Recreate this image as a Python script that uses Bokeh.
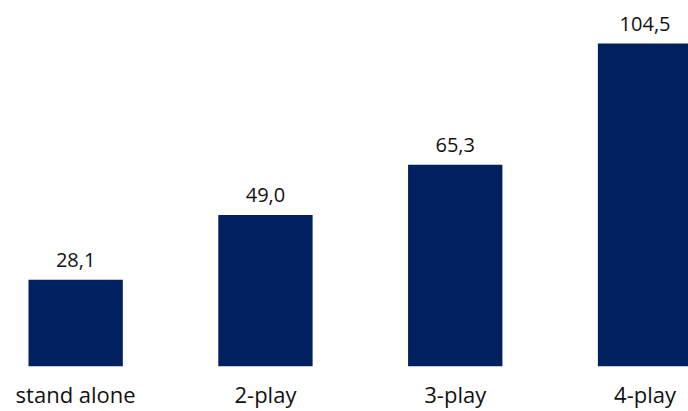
from bokeh.plotting import figure
from bokeh.models import ColumnDataSource, FixedTicker, Range1d
from bokeh.core.properties import value
from bokeh.embed import file_html
from bokeh.resources import INLINE

categories = ["stand alone", "2-play", "3-play", "4-play"]
values = [28.1, 49.0, 65.3, 104.5]
value_labels = ["28,1", "49,0", "65,3", "104,5"]

positions = list(range(len(categories)))
source = ColumnDataSource(data=dict(x=positions, top=values, label=value_labels))

p = figure(width=688, height=411, output_backend="svg", toolbar_location=None,
           x_range=Range1d(-0.396, 3.229), y_range=Range1d(0, 118.45),
           min_border_left=0, min_border_right=0, min_border_top=0, min_border_bottom=45)

p.vbar(x="x", top="top", bottom=0, width=0.497, source=source,
       fill_color="#002060", line_color=None)

p.text(x="x", y="top", text="label", source=source, text_align="center",
       text_baseline="alphabetic", y_offset=-20, text_font=value("Open Sans"),
       text_font_size="20px", text_color="#111111")

p.yaxis.visible = False
p.xgrid.visible = False
p.ygrid.visible = False
p.outline_line_color = None
p.xaxis.ticker = FixedTicker(ticks=positions)
p.xaxis.major_label_overrides = {i: c for i, c in zip(positions, categories)}
p.xaxis.axis_line_color = None
p.xaxis.major_tick_line_color = None
p.xaxis.minor_tick_line_color = None
p.xaxis.major_label_standoff = 6
p.xaxis.major_label_text_font = "Open Sans"
p.xaxis.major_label_text_font_size = "22px"
p.xaxis.major_label_text_color = "#111111"
p.background_fill_color = "white"
p.border_fill_color = "white"

open("out.html", "w").write(file_html(p, INLINE))
